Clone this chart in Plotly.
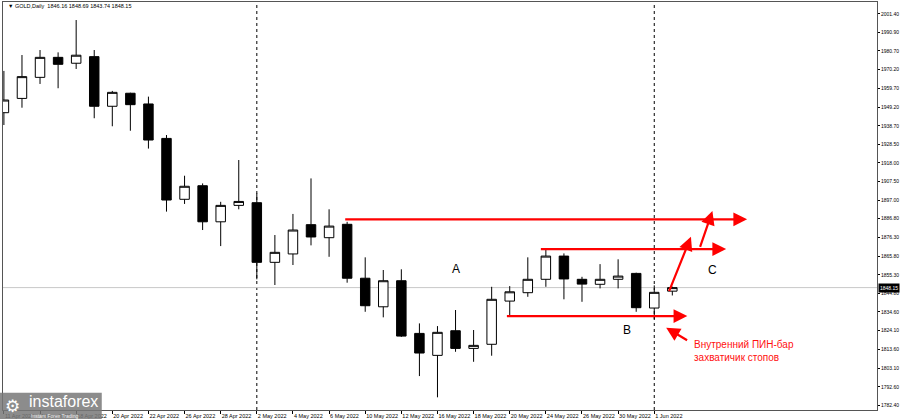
import plotly.graph_objects as go

# ---------------- data ----------------
dates = ["2022-04-11", "2022-04-12", "2022-04-13", "2022-04-14", "2022-04-18", "2022-04-19",
         "2022-04-20", "2022-04-21", "2022-04-22", "2022-04-25", "2022-04-26", "2022-04-27",
         "2022-04-28", "2022-04-29", "2022-05-02", "2022-05-03", "2022-05-04", "2022-05-05",
         "2022-05-06", "2022-05-09", "2022-05-10", "2022-05-11", "2022-05-12", "2022-05-13",
         "2022-05-16", "2022-05-17", "2022-05-18", "2022-05-19", "2022-05-20", "2022-05-23",
         "2022-05-24", "2022-05-25", "2022-05-26", "2022-05-27", "2022-05-30", "2022-05-31",
         "2022-06-01", "2022-06-02"]
opens = [1946.1, 1954.1, 1965.9, 1977.1, 1973.8, 1977.5, 1949.7, 1957.0, 1951.0, 1931.7,
         1897.6, 1905.2, 1885.0, 1894.2, 1895.7, 1862.3, 1867.0, 1883.4, 1876.1, 1883.6,
         1853.4, 1837.4, 1852.0, 1822.5, 1810.2, 1824.0, 1814.1, 1816.4, 1840.6, 1845.3,
         1852.8, 1865.8, 1852.8, 1850.0, 1852.8, 1856.1, 1836.7, 1846.16]
highs = [1969.5, 1978.4, 1981.2, 1979.9, 1998.0, 1981.2, 1958.3, 1957.3, 1955.1, 1933.6,
         1910.8, 1906.5, 1896.2, 1919.6, 1900.9, 1877.6, 1889.4, 1909.3, 1892.0, 1885.0,
         1865.1, 1858.0, 1858.4, 1828.1, 1826.6, 1835.6, 1824.4, 1848.6, 1849.0, 1865.1,
         1869.6, 1867.3, 1854.2, 1861.3, 1864.0, 1856.5, 1849.4, 1848.69]
lows = [1939.2, 1948.9, 1962.2, 1959.8, 1970.6, 1943.0, 1938.5, 1936.0, 1926.0, 1890.7,
        1895.0, 1880.4, 1871.4, 1892.0, 1852.8, 1849.6, 1860.8, 1871.8, 1865.4, 1850.9,
        1834.6, 1831.5, 1820.5, 1798.6, 1786.7, 1812.2, 1806.6, 1810.0, 1832.2, 1843.0,
        1848.6, 1841.6, 1840.2, 1847.7, 1847.7, 1834.6, 1830.5, 1843.74]
closes = [1953.2, 1966.3, 1977.1, 1973.2, 1978.3, 1949.7, 1957.5, 1950.6, 1930.8, 1897.2,
          1904.9, 1885.0, 1894.2, 1896.4, 1862.3, 1867.9, 1880.4, 1876.5, 1882.6, 1853.4,
          1838.0, 1852.0, 1821.0, 1811.5, 1823.1, 1814.1, 1815.8, 1841.6, 1845.8, 1852.8,
          1865.8, 1853.0, 1850.1, 1852.8, 1854.6, 1836.9, 1845.5, 1848.15]

month_separators = ["2022-05-02", "2022-06-01"]
bid_price = 1848.15
y_ticks = [2001.40, 1990.90, 1980.70, 1970.20, 1959.70, 1949.20, 1938.70, 1928.50, 1918.00,
           1907.50, 1897.00, 1886.80, 1876.30, 1865.80, 1855.30, 1844.80, 1834.60, 1824.10,
           1813.60, 1803.10, 1792.60, 1782.40]

# red drawn arrows: (tail bar-index, tail price, head bar-index, head price)
arrows_tail_x = [18.81, 29.64, 27.76, 36.79, 38.51, 37.90]
arrows_tail_y = [1886.4, 1869.7, 1832.2, 1845.3, 1870.1, 1818.2]
arrows_head_x = [41.14, 39.98, 37.83, 38.03, 39.22, 36.66]
arrows_head_y = [1886.4, 1869.7, 1832.2, 1876.6, 1891.0, 1825.7]

letter_text = ["A", "B", "C"]
letter_x = [25.0, 34.5, 39.2]
letter_y = [1858.5, 1824.4, 1858.0]

note_text = "Внутренний ПИН-бар<br>захватичик стопов"
note_x = 38.1
note_y = 1812.6

title_text = "▼ GOLD,Daily  1846.16 1848.69 1843.74 1848.15"

MONTHS = ["Jan", "Feb", "Mar", "Apr", "May", "Jun", "Jul", "Aug", "Sep", "Oct", "Nov", "Dec"]


def fmt_date(d):
    y, m, dd = d.split("-")
    return f"{int(dd)} {MONTHS[int(m) - 1]} {y}"


tick_dates = dates[::2]
tick_labels = [fmt_date(d) for d in tick_dates]

# ---------------- figure ----------------
fig = go.Figure()
fig.add_trace(go.Candlestick(
    x=dates, open=opens, high=highs, low=lows, close=closes,
    increasing=dict(line=dict(color="#000000", width=1), fillcolor="#ffffff"),
    decreasing=dict(line=dict(color="#000000", width=1), fillcolor="#000000"),
    whiskerwidth=0, showlegend=False, hoverinfo="skip",
))

shapes = []
for d in month_separators:
    idx = dates.index(d)
    shapes.append(dict(type="line", xref="x", yref="paper", x0=idx, x1=idx, y0=0, y1=1,
                       line=dict(color="#000000", width=1, dash="dot"), layer="below"))
shapes.append(dict(type="line", xref="paper", yref="y", x0=0, x1=1, y0=bid_price, y1=bid_price,
                   line=dict(color="#c8c8c8", width=1), layer="below"))
# logo box
shapes.append(dict(type="rect", xref="paper", yref="paper", x0=-0.004, x1=0.113, y0=-0.025, y1=0.042,
                   fillcolor="rgba(120,120,120,0.85)", line=dict(width=0), layer="above"))

annotations = []
for tx, ty, hx, hy in zip(arrows_tail_x, arrows_tail_y, arrows_head_x, arrows_head_y):
    annotations.append(dict(x=hx, y=hy, ax=tx, ay=ty, xref="x", yref="y", axref="x", ayref="y",
                            text="", showarrow=True, arrowhead=2, arrowsize=1.25,
                            arrowwidth=2.2, arrowcolor="#ff0000", standoff=0, startstandoff=0))
for t, lx, ly in zip(letter_text, letter_x, letter_y):
    annotations.append(dict(x=lx, y=ly, xref="x", yref="y", text=t, showarrow=False,
                            font=dict(family="Liberation Sans, Arial", size=12, color="#000000")))
annotations.append(dict(x=note_x, y=note_y, xref="x", yref="y", text=note_text, showarrow=False,
                        xanchor="left", yanchor="middle", align="left",
                        font=dict(family="Liberation Sans, Arial", size=10, color="#ff1010")))
annotations.append(dict(x=0.003, y=0.99, xref="paper", yref="paper", text=title_text,
                        showarrow=False, xanchor="left", yanchor="middle",
                        font=dict(family="Liberation Sans, Arial", size=5.5, color="#000000")))
annotations.append(dict(x=1.0, y=bid_price, xref="paper", yref="y", text=f"{bid_price:.2f}",
                        showarrow=False, xanchor="left", yanchor="middle", bgcolor="#000000",
                        borderpad=1, xshift=1,
                        font=dict(family="Liberation Sans, Arial", size=5, color="#ffffff")))
# logo texts
annotations.append(dict(x=0.0, y=0.009, xref="paper", yref="paper", text="⚙", showarrow=False,
                        xanchor="left", yanchor="middle",
                        font=dict(family="DejaVu Sans", size=17, color="#ffffff")))
annotations.append(dict(x=0.027, y=0.02, xref="paper", yref="paper", text="instaforex", showarrow=False,
                        xanchor="left", yanchor="middle",
                        font=dict(family="Liberation Sans, Arial", size=16, color="#ffffff")))
annotations.append(dict(x=0.03, y=-0.015, xref="paper", yref="paper", text="Instant Forex Trading",
                        showarrow=False, xanchor="left", yanchor="middle",
                        font=dict(family="Liberation Sans, Arial", size=5, color="#eeeeee")))

fig.update_layout(
    width=900, height=419,
    margin=dict(l=3, r=23, t=2, b=9, autoexpand=False),
    paper_bgcolor="#ffffff", plot_bgcolor="#ffffff",
    boxgap=0.25,
    shapes=shapes, annotations=annotations,
    showlegend=False,
    xaxis=dict(type="category", range=[-0.05, 48.33], rangeslider=dict(visible=False),
               tickvals=tick_dates, ticktext=tick_labels, ticks="outside", ticklen=3,
               tickcolor="#000000", ticklabelposition="outside right", tickangle=0,
               automargin=False,
               tickfont=dict(family="Liberation Sans, Arial", size=5.5, color="#000000"),
               showgrid=False, zeroline=False, showline=True, linecolor="#555555",
               linewidth=1, mirror=True, fixedrange=True),
    yaxis=dict(side="right", range=[1779.6, 2008.1], tickvals=y_ticks, automargin=False,
               ticktext=[f"{v:.2f}" for v in y_ticks], ticks="outside", ticklen=2,
               tickcolor="#000000",
               tickfont=dict(family="Liberation Sans, Arial", size=5, color="#000000"),
               showgrid=False, zeroline=False, showline=True, linecolor="#555555",
               linewidth=1, mirror=True, fixedrange=True),
)

fig.write_html("out.html", config={"displayModeBar": False},
               post_script="document.body.style.margin='0';")
